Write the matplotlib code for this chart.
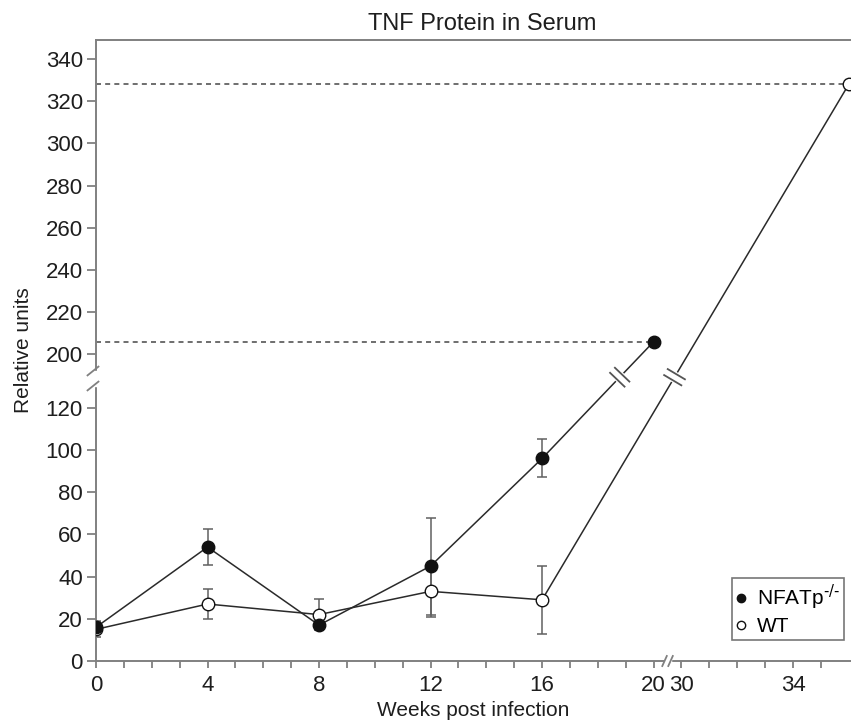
import numpy as np
import matplotlib.pyplot as plt
from matplotlib.lines import Line2D
from matplotlib.patches import Rectangle

plt.rcParams['font.family'] = ['Liberation Sans', 'DejaVu Sans']

# data
weeks_ko = [0, 4, 8, 12, 16, 20]
tnf_ko = [16, 54, 17, 45, 96, 206]
err_ko = [3, 8.5, 2, 23, 9]

weeks_wt = [0, 4, 8, 12, 16, 36]
tnf_wt = [15, 27, 22, 33, 29, 328]
err_wt = [3.5, 7.3, 7.5, 12, 16]

yticks = [0, 20, 40, 60, 80, 100, 120, 200, 220, 240, 260, 280, 300, 320, 340]
xticks = [0, 4, 8, 12, 16, 20, 30, 34]
xminor = [1, 2, 3, 5, 6, 7, 9, 10, 11, 13, 14, 15, 17, 18, 19, 31, 32, 33, 35]

# broken axes done with piecewise-linear scales
BIG = 1e4
y_in = [-BIG, 125, 195, BIG]
y_out = [-BIG, 125, 140.3, BIG - 54.7]
x_in = [-BIG, 20, 30, BIG]
x_out = [-BIG, 20, 21, BIG - 9]


def y_fwd(v):
    return np.interp(v, y_in, y_out)


def y_inv(t):
    return np.interp(t, y_out, y_in)


def x_fwd(v):
    return np.interp(v, x_in, x_out)


def x_inv(t):
    return np.interp(t, x_out, x_in)


SPINE = '#808080'
LINE = '#2a2a2a'
ERR = '#606060'
TXT = '#1e1e1e'

fig = plt.figure(figsize=(8.51, 7.24), dpi=100)
ax = fig.add_axes([96 / 851, 63 / 724, 755 / 851, 621 / 724])
ax.set_xscale('function', functions=(x_fwd, x_inv))
ax.set_yscale('function', functions=(y_fwd, y_inv))
ax.set_xlim(0, 36.08)
ax.set_ylim(0, 349)

# dashed reference lines
ax.plot([0, weeks_ko[-1]], [tnf_ko[-1]] * 2, ls=(0, (3, 2.5)), lw=1.2, color='#555555', zorder=1)
ax.plot([0, weeks_wt[-1]], [tnf_wt[-1]] * 2, ls=(0, (3, 2.5)), lw=1.2, color='#555555', zorder=1)

# error bars
ax.errorbar(weeks_ko[:5], tnf_ko[:5], yerr=err_ko, fmt='none', ecolor=ERR,
            elinewidth=1.1, capsize=3.5, capthick=1.1, zorder=2)
ax.errorbar(weeks_wt[:5], tnf_wt[:5], yerr=err_wt, fmt='none', ecolor=ERR,
            elinewidth=1.1, capsize=3.5, capthick=1.1, zorder=2)

ax.plot(weeks_wt, tnf_wt, color=LINE, lw=1.1, marker='o', ms=9,
        mfc='white', mec='#111111', mew=1.0, zorder=3)
ax.plot(weeks_ko, tnf_ko, color=LINE, lw=1.1, marker='o', ms=9,
        mfc='#111111', mec='#111111', zorder=4)

# spines and ticks
ax.spines['right'].set_visible(False)
for s in ['left', 'bottom', 'top']:
    ax.spines[s].set_color(SPINE)
    ax.spines[s].set_linewidth(1.4)
ax.set_yticks(yticks)
ax.set_xticks(xticks)
ax.set_xticks(xminor, minor=True)
ax.tick_params(axis='y', direction='out', length=6.5, width=1.3, color=SPINE,
               labelsize=16, labelcolor=TXT, pad=3)
ax.tick_params(axis='x', which='both', direction='out', length=5, width=1.3,
               color=SPINE, labelsize=16, labelcolor=TXT, pad=5)

ax.set_title('TNF Protein in Serum', fontsize=17, color=TXT, pad=7,
             x=(482 - 96) / 755)
ax.set_xlabel('Weeks post infection', fontsize=15, color=TXT, labelpad=4)
ax.set_ylabel('Relative units', fontsize=15, color=TXT, labelpad=9)

# legend
handles = [
    Line2D([], [], ls='none', marker='o', ms=6, mfc='#111111', mec='#111111'),
    Line2D([], [], ls='none', marker='o', ms=6, mfc='white', mec='#111111', mew=1.0),
]
leg = ax.legend(handles, ['NFATp$^{\\text{-/-}}$', 'WT'], loc='lower left',
                bbox_to_anchor=((732 - 96) / 755, 21 / 621), fontsize=15,
                frameon=True, fancybox=False, handlelength=0.5,
                handletextpad=0.5, borderpad=0.2, labelspacing=0.25,
                borderaxespad=0)
leg.get_frame().set_edgecolor('#555555')
leg.get_frame().set_linewidth(1.2)

# break marks (drawn in display space)
fig.canvas.draw()
to_disp = ax.transData.transform


def slash(p, d, length, **kw):
    d = np.asarray(d, float) / np.hypot(*d)
    a = p - d * length / 2
    b = p + d * length / 2
    fig.add_artist(Line2D([a[0], b[0]], [a[1], b[1]], transform=None, **kw))


def line_break(x0, y0, x1, y1, ylevel):
    p0 = to_disp((x0, y0))
    p1 = to_disp((x1, y1))
    yl = to_disp((x0, ylevel))[1]
    s = (yl - p0[1]) / (p1[1] - p0[1])
    c = p0 + s * (p1 - p0)
    u = (p1 - p0) / np.hypot(*(p1 - p0))
    n = np.array([u[1], -u[0]])
    gap = 3.5
    fig.add_artist(Line2D([c[0] - u[0] * gap, c[0] + u[0] * gap],
                          [c[1] - u[1] * gap, c[1] + u[1] * gap],
                          transform=None, color='white', lw=3, zorder=5))
    for k in (-1, 1):
        slash(c + k * u * gap, n, 20, color='#555555', lw=1.3, zorder=6)


yb = y_inv(134.5)
line_break(weeks_ko[-2], tnf_ko[-2], weeks_ko[-1], tnf_ko[-1], yb)
line_break(weeks_wt[-2], tnf_wt[-2], weeks_wt[-1], tnf_wt[-1], yb)

# y-axis break
x0 = to_disp((0, 0))[0]
ya = to_disp((0, y_inv((661 - 371) / 2.11)))[1]
yb2 = to_disp((0, y_inv((661 - 386) / 2.11)))[1]
fig.add_artist(Rectangle((x0 - 2, yb2), 4, ya - yb2, transform=None,
                         color='white', zorder=5))
for yy in (ya, yb2):
    slash(np.array([x0 - 3, yy]), (1, 0.8), 14, color=SPINE, lw=1.3, zorder=6)

# x-axis break
xa = to_disp((25, 0))[0] - 3
xb = xa + 6
y0 = to_disp((0, 0))[1]
fig.add_artist(Rectangle((xa, y0 - 2), xb - xa, 4, transform=None,
                         color='white', zorder=5))
for xx in (xa, xb):
    slash(np.array([xx, y0]), (0.45, 1), 11, color=SPINE, lw=1.3, zorder=6)

fig.savefig('out.png', dpi=100)
